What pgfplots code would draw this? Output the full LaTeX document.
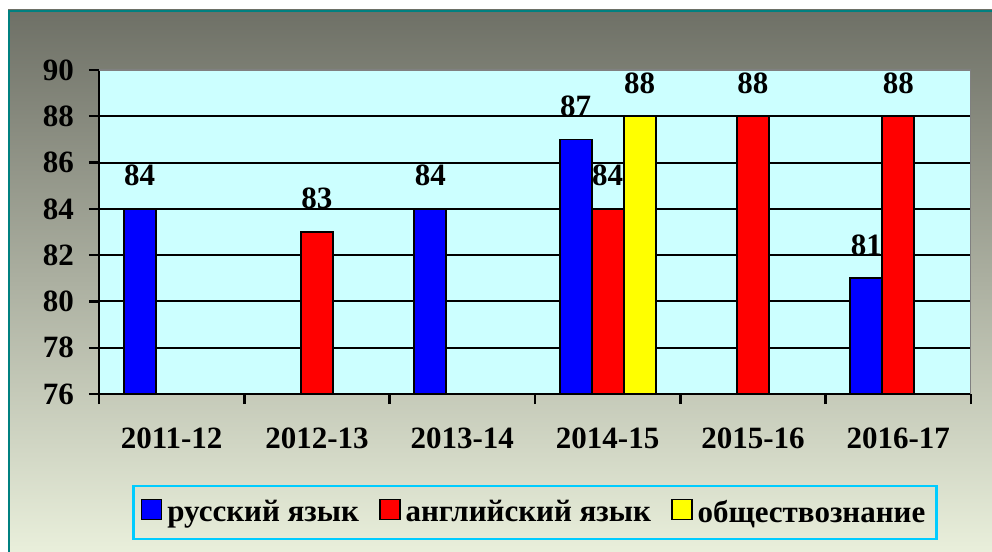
\documentclass[border=0pt]{standalone}
\usepackage{fontspec}
\setmainfont{Liberation Serif}
\usepackage{pgfplots}
\pgfplotsset{compat=1.18}
\definecolor{bgtop}{HTML}{6E7066}
\definecolor{bgbot}{HTML}{E9EFDB}
\definecolor{plotbg}{HTML}{CCFFFF}
\definecolor{frameteal}{HTML}{008080}
\definecolor{legcyan}{HTML}{00CCFF}
\definecolor{bblue}{HTML}{0000FF}
\definecolor{bred}{HTML}{FF0000}
\definecolor{byellow}{HTML}{FFFF00}
\newcommand{\lbl}{\bfseries\fontsize{15.5}{18}\selectfont}
\begin{document}
\begin{tikzpicture}
\useasboundingbox (0,0) rectangle (496pt,276pt);
\fill[white] (0,0) rectangle (496pt,276pt);
\shade[top color=bgtop, bottom color=bgbot] (4pt,0) rectangle (496pt,271pt);
\draw[frameteal, line width=1.2pt] (4.6pt,0) -- (4.6pt,270.4pt) -- (496pt,270.4pt);
\begin{axis}[
  at={(49.5pt,79pt)}, anchor=south west,
  width=436pt, height=162pt, scale only axis,
  ybar=0pt, bar width=0.22,
  xmin=-0.5, xmax=5.5, ymin=76, ymax=90,
  ytick={76,78,...,90},
  xtick={-0.5,0.5,...,5.5},
  x tick label as interval,
  xticklabels={2011-12,2012-13,2013-14,2014-15,2015-16,2016-17},
  axis lines*=left,
  axis line style={-, black, line width=1.4pt},
  tick align=outside,
  major tick length=5pt,
  tick style={black, line width=1.2pt},
  ymajorgrids,
  major grid style={black, line width=1pt},
  axis background/.style={fill=plotbg},
  /pgf/number format/assume math mode=true,
  tick label style={font=\lbl},
  y tick label style={xshift=-4pt},
  x tick label style={yshift=-8.5pt},
  nodes near coords,
  every node near coord/.append style={font=\lbl, anchor=south, inner sep=0pt, yshift=11pt, black},
  legend columns=3,
  legend style={at={(0.5,-0.366)}, anchor=center, draw=legcyan, line width=1.3pt, fill=none,
    font=\lbl, inner xsep=3.5pt, inner ysep=5pt,
    /tikz/every even column/.append style={column sep=8pt}},
  legend image code/.code={\draw[#1, line width=0.8pt, draw=black] (0pt,-3.5pt) rectangle (10pt,6.5pt); \path (10.5pt,0pt);},
]
\addplot[bar shift=-0.22, fill=bblue, draw=black, line width=0.9pt]
  coordinates {(0,84) (2,84) (3,87) (5,81)};
\addlegendentry{русский язык}
\addplot[bar shift=0, fill=bred, draw=black, line width=0.9pt]
  coordinates {(1,83) (3,84) (4,88) (5,88)};
\addlegendentry{английский язык}
\addplot[bar shift=0.22, fill=byellow, draw=black, line width=0.9pt]
  coordinates {(3,88)};
\addlegendentry{обществознание}
\draw[gray, line width=1pt] (axis description cs:0,1) -- (axis description cs:1,1) -- (axis description cs:1,0);
\end{axis}
\end{tikzpicture}
\end{document}
